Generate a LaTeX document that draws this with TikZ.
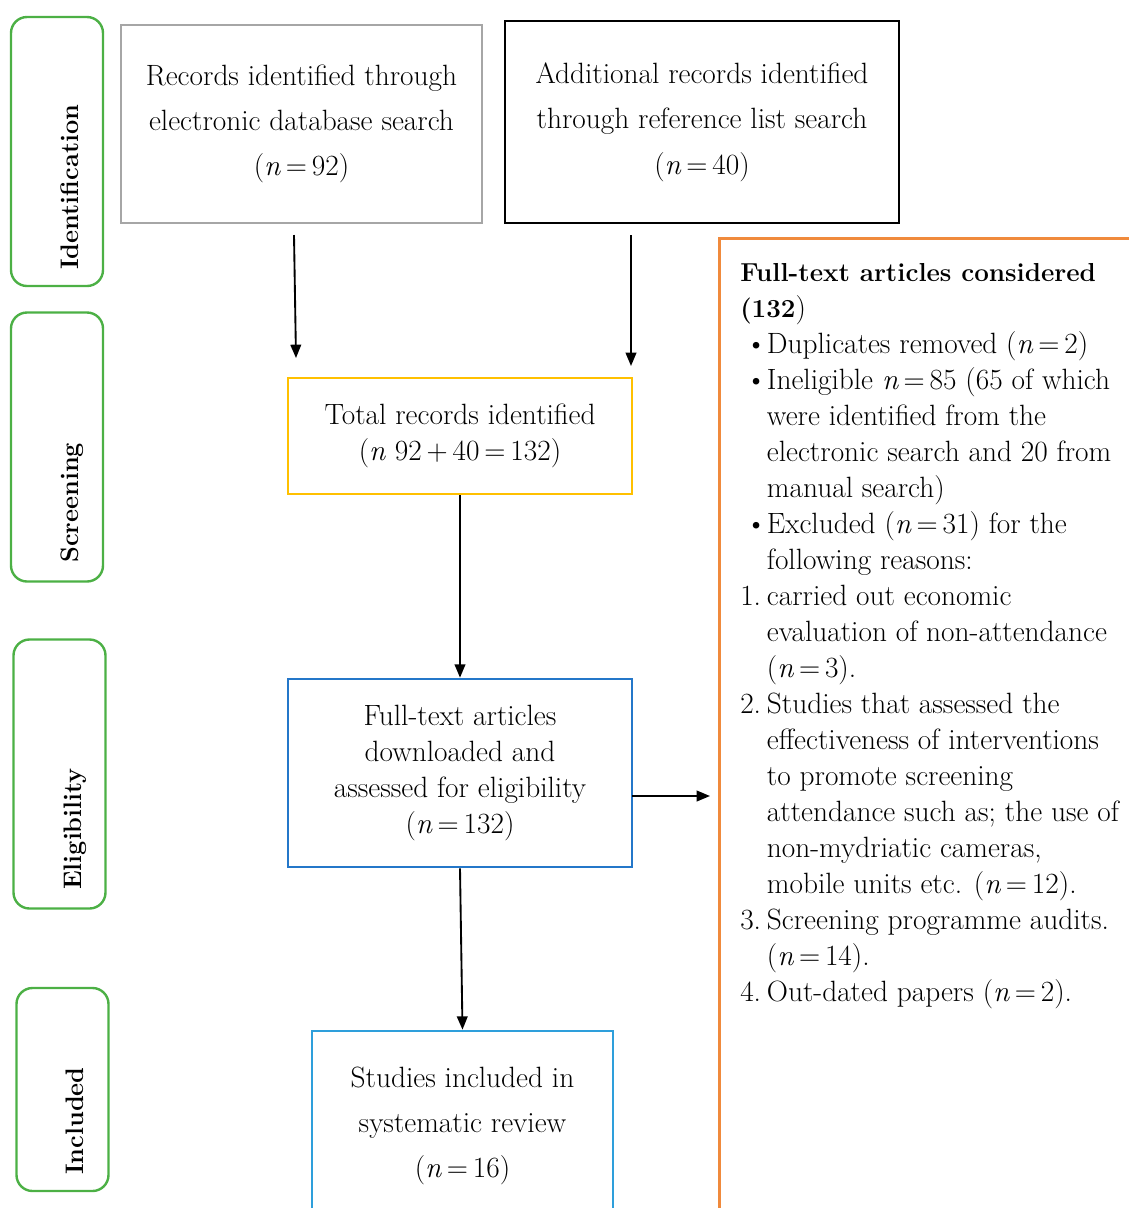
\documentclass[tikz,border=0pt]{standalone}
\usepackage{xcolor}
\usepackage{tikz}
\usetikzlibrary{arrows.meta, positioning, calc}
\definecolor{phasegreen}{HTML}{4CB045}
\definecolor{dbgray}{HTML}{A6A6A6}
\definecolor{totalyellow}{HTML}{FFC000}
\definecolor{fullblue}{HTML}{2477C9}
\definecolor{inclblue}{HTML}{2E9FDB}
\definecolor{exclorange}{HTML}{F08A3C}
\newcommand{\nis}[1]{\textit{n}\,=\,#1}

\begin{document}
\begin{tikzpicture}[
    x=0.75pt, y=-0.75pt,
    phase/.style={rectangle, rounded corners=12pt, draw=phasegreen, line width=1.8pt,
        minimum width=92*0.75pt, minimum height=269*0.75pt, inner sep=0pt},
    phaselbl/.style={rotate=90, anchor=west, inner sep=0pt,
        font=\fontsize{19}{21}\selectfont\bfseries},
    box/.style={rectangle, line width=2pt, align=center, inner sep=0pt,
        font=\fontsize{22}{34}\selectfont},
    tightbox/.style={box, font=\fontsize{22}{27}\selectfont},
    arr/.style={-{Triangle[length=10pt, width=8pt]}, line width=1.4pt, black},
    listtext/.style={align=left, inner sep=0pt, font=\fontsize{22}{27}\selectfont}
]
    \clip (0,0) rectangle (1129,1208);

    % === phase labels (left) ===
    \node[phase] (idph) at (57, 151.5) {};
    \node[phaselbl] (idlbl) at (70, 270) {Identification};
    \node[phase] (scph) at (57, 447) {};
    \node[phaselbl] (sclbl) at (72, 563) {Screening};
    \node[phase] (elph) at (59.5, 774) {};
    \node[phaselbl] (ellbl) at (75, 890) {Eligibility};
    \node[phase, minimum height=203*0.75pt] (inph) at (62.5, 1089.5) {};
    \node[phaselbl] (inlbl) at (75, 1175) {Included};

    % === identification ===
    \node[box, draw=dbgray, minimum width=361*0.75pt, minimum height=198*0.75pt]
        (dbsearch) at (301.5, 124) {Records identified through\\electronic database search\\(\nis{92})};
    \node[box, draw=black, minimum width=394*0.75pt, minimum height=202*0.75pt]
        (refsearch) at (702, 122) {Additional records identified\\through reference list search\\(\nis{40})};

    % === screening / eligibility / included ===
    \node[tightbox, draw=totalyellow, minimum width=344*0.75pt, minimum height=116*0.75pt]
        (total) at (460, 436) {Total records identified\\(\textit{n} 92\,+\,40\,=\,132)};
    \node[tightbox, draw=fullblue, minimum width=344*0.75pt, minimum height=188*0.75pt]
        (fulltext) at (460, 773) {Full-text articles\\downloaded and\\assessed for eligibility\\(\nis{132})};
    \node[box, draw=inclblue, minimum width=301*0.75pt, minimum height=190*0.75pt]
        (included) at (462.5, 1126) {Studies included in\\systematic review\\(\nis{16})};

    % === exclusions (right) ===
    \node[rectangle, draw=exclorange, line width=2pt, anchor=north west,
        minimum width=440*0.75pt, minimum height=1000*0.75pt] (excl) at (718, 237) {};
    \node[listtext, anchor=north west] (excltext) at (740, 263) {%
        {\fontsize{19.5}{27}\selectfont\bfseries Full-text articles considered}\\
        {\fontsize{19.5}{27}\selectfont\bfseries (132})\\
        \makebox[20pt][l]{\hspace{4pt}\textbullet}Duplicates removed (\nis{2})\\
        \makebox[20pt][l]{\hspace{4pt}\textbullet}Ineligible \nis{85} (65 of which\\
        \hspace*{20pt}were identified from the\\
        \hspace*{20pt}electronic search and 20 from\\
        \hspace*{20pt}manual search)\\
        \makebox[20pt][l]{\hspace{4pt}\textbullet}Excluded (\nis{31}) for the\\
        \hspace*{20pt}following reasons:\\
        \makebox[20pt][l]{1.}carried out economic\\
        \hspace*{20pt}evaluation of non-attendance\\
        \hspace*{20pt}(\nis{3}).\\
        \makebox[20pt][l]{2.}Studies that assessed the\\
        \hspace*{20pt}effectiveness of interventions\\
        \hspace*{20pt}to promote screening\\
        \hspace*{20pt}attendance such as; the use of\\
        \hspace*{20pt}non-mydriatic cameras,\\
        \hspace*{20pt}mobile units etc. (\nis{12}).\\
        \makebox[20pt][l]{3.}Screening programme audits.\\
        \hspace*{20pt}(\nis{14}).\\
        \makebox[20pt][l]{4.}Out-dated papers (\nis{2}).};

    % --- free arrow ends ---
    \coordinate (dbout) at (294, 235);
    \coordinate (dbin) at (296, 358);
    \coordinate (refout) at (631, 235);
    \coordinate (refin) at (631, 366);
    \coordinate (fullout) at (632, 796);

    % --- arrows ---
    \draw[arr] (dbout) -- (dbin);
    \draw[arr] (refout) -- (refin);
    \draw[arr] (total.south) -- (fulltext.north);
    \draw[arr] (fulltext.south) -- (included.north);
    \draw[arr, shorten >=6pt] (fullout) -- (fullout -| excl.west);
\end{tikzpicture}
\end{document}
